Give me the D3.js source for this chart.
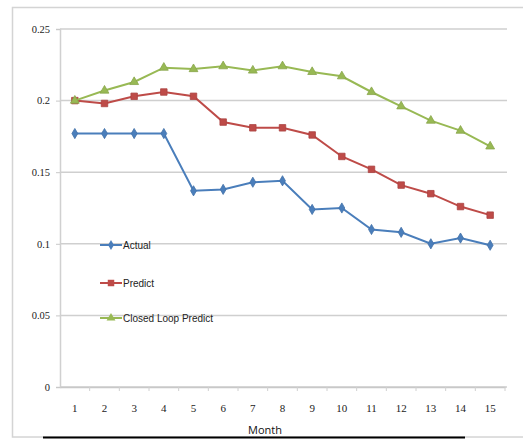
<!DOCTYPE html>
<html>
<head>
<meta charset="utf-8">
<script src="https://cdn.jsdelivr.net/npm/d3@7"></script>
<style>
  body { margin: 0; background: #fff; }
  svg { display: block; }
  .tick text { font-family: "Liberation Serif", "DejaVu Serif", serif; fill: #222; }
</style>
</head>
<body>
<svg id="chart"></svg>
<script>
var width = 523,
    height = 439;

// data
var months = ["1","2","3","4","5","6","7","8","9","10","11","12","13","14","15"];
var actual = [0.177,0.177,0.177,0.177,0.137,0.138,0.143,0.144,0.124,0.125,0.110,0.108,0.100,0.104,0.099];
var predict = [0.200,0.198,0.203,0.206,0.203,0.185,0.181,0.181,0.176,0.161,0.152,0.141,0.135,0.126,0.120];
var closedLoop = [0.200,0.207,0.213,0.223,0.222,0.224,0.221,0.224,0.220,0.217,0.206,0.196,0.186,0.179,0.168];
var yTicks = [0, 0.05, 0.1, 0.15, 0.2, 0.25];
var seriesNames = ["Actual", "Predict", "Closed Loop Predict"];

var series = [
    {name: seriesNames[0], values: actual, color: "#4a7ebb", shape: d3.symbolDiamond, size: 30},
    {name: seriesNames[1], values: predict, color: "#be4b48", shape: d3.symbolSquare, size: 42},
    {name: seriesNames[2], values: closedLoop, color: "#98b954", shape: d3.symbolTriangle, size: 34}
];

var svg = d3.select("#chart")
    .attr("width", width)
    .attr("height", height);

// outer chart frame
svg.append("rect")
    .attr("x", 12.5).attr("y", 7.5)
    .attr("width", 530).attr("height", 429.5)
    .attr("fill", "none")
    .attr("stroke", "#d4d4d4")
    .attr("stroke-width", 1.5);

var x = d3.scaleBand()
    .domain(months)
    .range([60, 505]);

var y = d3.scaleLinear()
    .domain([0, 0.25])
    .range([387, 29]);

// gridlines
svg.append("g")
    .selectAll("line")
    .data(yTicks)
    .enter().append("line")
    .attr("x1", 60).attr("x2", 507)
    .attr("y1", function (d) { return y(d); })
    .attr("y2", function (d) { return y(d); })
    .attr("stroke", "#cfcfcf")
    .attr("stroke-width", 1.5);

// y axis
var yAxis = svg.append("g")
    .attr("transform", "translate(60,0)")
    .call(d3.axisLeft(y).tickValues(yTicks).tickSize(4).tickPadding(6)
        .tickFormat(function (d) { return d === 0 ? "0" : String(d); }))
    .attr("font-family", "Liberation Serif, serif");
yAxis.select(".domain").attr("stroke", "#d0d0d0").attr("stroke-width", 1.5);
yAxis.selectAll(".tick line").attr("stroke", "#c8c8c8");
yAxis.selectAll(".tick text").style("font-size", "10.5px");

// x axis
var xAxis = svg.append("g")
    .attr("transform", "translate(0," + y(0) + ")")
    .call(d3.axisBottom(x).tickSize(0).tickPadding(17))
    .attr("font-family", "Liberation Serif, serif");
xAxis.select(".domain").attr("stroke", "#c8c8c8").attr("stroke-width", 1.5);
xAxis.selectAll(".tick text").style("font-size", "11px");

// small ticks between categories
svg.append("g")
    .selectAll("line")
    .data(months)
    .enter().append("line")
    .attr("x1", function (d) { return x(d) + x.bandwidth(); })
    .attr("x2", function (d) { return x(d) + x.bandwidth(); })
    .attr("y1", y(0)).attr("y2", y(0) + 4)
    .attr("stroke", "#d0d0d0");

// lines + markers
var line = d3.line()
    .x(function (d, i) { return x(months[i]) + x.bandwidth() / 2; })
    .y(function (d) { return y(d); });

series.forEach(function (s) {
    svg.append("path")
        .datum(s.values)
        .attr("d", line)
        .attr("fill", "none")
        .attr("stroke", s.color)
        .attr("stroke-width", 2);

    svg.append("g")
        .selectAll("path")
        .data(s.values)
        .enter().append("path")
        .attr("d", d3.symbol().type(s.shape).size(s.size))
        .attr("transform", function (d, i) {
            return "translate(" + (x(months[i]) + x.bandwidth() / 2) + "," + y(d) + ")";
        })
        .attr("fill", s.color)
        .attr("stroke", d3.color(s.color).darker(0.3))
        .attr("stroke-width", 0.8);
});

// legend inside the plot
var legendY = [245, 283, 318];
var legend = svg.append("g")
    .selectAll("g")
    .data(series)
    .enter().append("g")
    .attr("transform", function (d, i) { return "translate(100," + legendY[i] + ")"; });

legend.append("line")
    .attr("x1", 0).attr("x2", 22)
    .attr("stroke", function (d) { return d.color; })
    .attr("stroke-width", 2);

legend.append("path")
    .attr("d", function (d) { return d3.symbol().type(d.shape).size(d.size)(); })
    .attr("transform", "translate(11,0)")
    .attr("fill", function (d) { return d.color; });

legend.append("text")
    .attr("x", 23)
    .attr("dy", "0.35em")
    .style("font-family", "'Liberation Sans Narrow', 'Liberation Sans', sans-serif")
    .style("font-size", "10px")
    .style("fill", "#222")
    .text(function (d) { return d.name; });

// x axis title
svg.append("text")
    .attr("x", 265)
    .attr("y", 434)
    .attr("text-anchor", "middle")
    .style("font-family", "'Open Sans', 'Noto Sans', sans-serif")
    .style("font-size", "11px")
    .style("fill", "#111")
    .text("Month");

// dark rule under the caption
svg.append("line")
    .attr("x1", 43).attr("x2", 465)
    .attr("y1", 437.5).attr("y2", 437.5)
    .attr("stroke", "#000")
    .attr("stroke-width", 2);
</script>
</body>
</html>
